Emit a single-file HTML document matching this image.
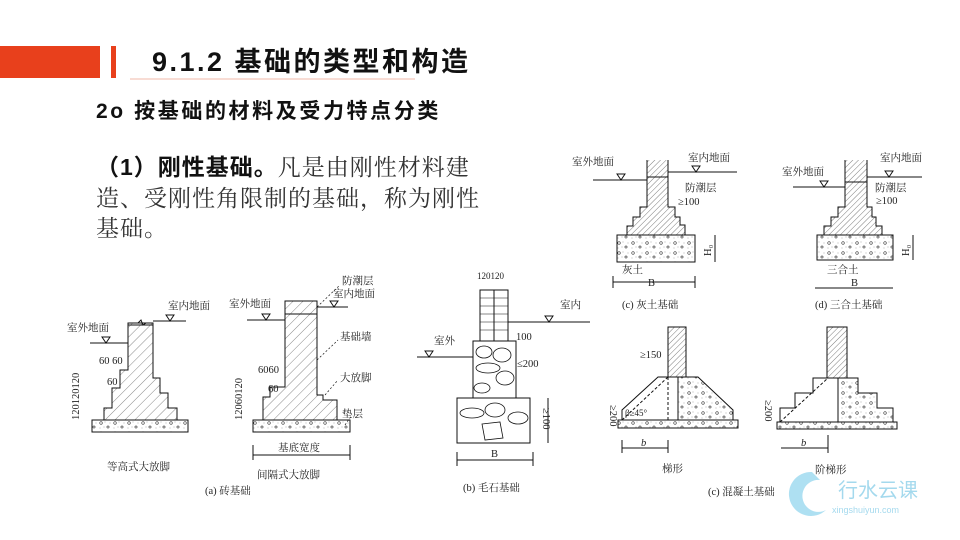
<!DOCTYPE html>
<html><head><meta charset="utf-8"><style>
body{margin:0;background:#fff;width:960px;height:540px;overflow:hidden;font-family:"Liberation Sans","Noto Sans CJK SC",sans-serif}
svg{position:absolute;left:0;top:0}
.t{font-family:"Liberation Serif","Noto Serif CJK SC",serif;font-size:10.5px;fill:#222}
</style></head><body>
<svg width="960" height="540" viewBox="0 0 960 540">
<defs>
<pattern id="h" width="7" height="7" patternUnits="userSpaceOnUse" patternTransform="rotate(45)"><line x1="0" y1="0" x2="0" y2="7" stroke="#555" stroke-width="0.7"/></pattern>
<pattern id="hd" width="4" height="4" patternUnits="userSpaceOnUse" patternTransform="rotate(45)"><line x1="0" y1="0" x2="0" y2="4" stroke="#444" stroke-width="0.7"/></pattern>
<pattern id="g" width="14" height="10" patternUnits="userSpaceOnUse"><circle cx="3" cy="3" r="1.3" fill="none" stroke="#333" stroke-width="0.6"/><circle cx="10" cy="7" r="1.1" fill="none" stroke="#333" stroke-width="0.6"/><circle cx="7" cy="2" r="0.4" fill="#555"/><circle cx="12" cy="3" r="0.4" fill="#555"/><circle cx="2" cy="8" r="0.4" fill="#555"/><circle cx="6" cy="7" r="0.4" fill="#555"/></pattern>
</defs>
<!-- header -->
<rect x="0" y="46" width="100" height="32" fill="#e8401c"/>
<rect x="111" y="46" width="5" height="32" fill="#e8401c"/>
<line x1="130" y1="79" x2="415" y2="79" stroke="#f2b8a8" stroke-width="1"/>
<text x="152" y="71" font-size="27" font-weight="bold" fill="#111" letter-spacing="2.5" font-family="Liberation Sans,Noto Sans CJK SC,sans-serif">9.1.2  基础的类型和构造</text>
<text x="96" y="118" font-size="21" font-weight="bold" fill="#111" letter-spacing="2.6" font-family="Liberation Sans,Noto Sans CJK SC,sans-serif">2o 按基础的材料及受力特点分类</text>
<text x="96" y="175" font-size="23" fill="#333" letter-spacing="1" font-family="Liberation Serif,Noto Serif CJK SC,serif"><tspan font-weight="bold" fill="#111" font-family="Liberation Sans,Noto Sans CJK SC,sans-serif">（1）刚性基础。</tspan>凡是由刚性材料建</text>
<text x="96" y="206" font-size="23" fill="#333" letter-spacing="1" font-family="Liberation Serif,Noto Serif CJK SC,serif">造、受刚性角限制的基础，称为刚性</text>
<text x="96" y="236" font-size="23" fill="#333" letter-spacing="1" font-family="Liberation Serif,Noto Serif CJK SC,serif">基础。</text>

<g stroke="#111" stroke-width="1" fill="none">
<!-- (a) left -->
<path d="M128,323 L128,370 L120,370 L120,388 L112,388 L112,408 L104,408 L104,420 L177,420 L177,408 L168,408 L168,393 L160,393 L160,378 L153,378 L153,323 Z" fill="url(#h)"/>
<path d="M128,323 l10,0 l3,-3 l2,5 l3,-2 l7,0"/>
<line x1="128" y1="325" x2="153" y2="325"/>
<rect x="92" y="420" width="96" height="12" fill="url(#g)"/>
<line x1="90" y1="343" x2="128" y2="343"/><line x1="153" y1="321" x2="186" y2="321"/>
<path d="M102,337 l4,6 l4,-6 z M166,315 l4,6 l4,-6 z"/>
<!-- (a) middle -->
<path d="M285,301 L285,387 L270,387 L270,397 L263,397 L263,420 L337,420 L337,400 L323,400 L323,395 L317,395 L317,301 Z" fill="url(#h)"/>
<line x1="285" y1="314" x2="317" y2="314"/>
<rect x="253" y="420" width="97" height="12" fill="url(#g)"/>
<line x1="247" y1="320" x2="285" y2="320"/><line x1="317" y1="307" x2="348" y2="307"/>
<path d="M262,314 l4,6 l4,-6 z M330,301 l4,6 l4,-6 z"/>
<line x1="253" y1="455" x2="350" y2="455"/><line x1="253" y1="445" x2="253" y2="460"/><line x1="350" y1="445" x2="350" y2="460"/>
<g stroke-dasharray="2,2" stroke-width="0.7"><line x1="317" y1="307" x2="340" y2="285"/><line x1="317" y1="360" x2="338" y2="340"/><line x1="325" y1="395" x2="338" y2="380"/><line x1="345" y1="425" x2="352" y2="415"/></g>
<!-- (b) rubble -->
<rect x="480" y="290" width="28" height="51"/>
<line x1="494" y1="290" x2="494" y2="341"/>
<g stroke-width="0.6"><line x1="480" y1="298" x2="508" y2="298"/><line x1="480" y1="306" x2="508" y2="306"/><line x1="480" y1="314" x2="508" y2="314"/><line x1="480" y1="322" x2="508" y2="322"/><line x1="480" y1="330" x2="508" y2="330"/></g>
<rect x="473" y="341" width="43" height="57"/>
<rect x="457" y="398" width="73" height="45"/>
<g stroke-width="0.8"><ellipse cx="484" cy="352" rx="8" ry="6"/><ellipse cx="502" cy="355" rx="9" ry="7"/><ellipse cx="488" cy="368" rx="12" ry="5"/><ellipse cx="505" cy="378" rx="9" ry="7"/><ellipse cx="482" cy="388" rx="8" ry="5"/><ellipse cx="495" cy="410" rx="10" ry="7"/><ellipse cx="472" cy="413" rx="12" ry="5"/><ellipse cx="518" cy="418" rx="10" ry="6"/><path d="M482,424 l18,-2 l3,16 l-18,2 z"/></g>
<line x1="508" y1="322" x2="590" y2="322"/><line x1="417" y1="357" x2="473" y2="357"/>
<path d="M545,316 l4,6 l4,-6 z M425,351 l4,6 l4,-6 z"/>
<line x1="457" y1="460" x2="533" y2="460"/><line x1="457" y1="452" x2="457" y2="466"/><line x1="533" y1="452" x2="533" y2="466"/>
<line x1="548" y1="398" x2="548" y2="443"/>
<!-- (c) lime -->
<path d="M647,160 L647,207 L640,207 L640,217 L633,217 L633,226 L627,226 L627,235 L685,235 L685,225 L680,225 L680,217 L675,217 L675,207 L668,207 L668,160" fill="url(#hd)"/>
<line x1="647" y1="177" x2="668" y2="177"/>
<rect x="617" y="235" width="78" height="27" fill="url(#g)"/>
<line x1="593" y1="180" x2="647" y2="180"/><line x1="668" y1="172" x2="737" y2="172"/>
<path d="M617,174 l4,6 l4,-6 z M692,166 l4,6 l4,-6 z"/>
<line x1="613" y1="282" x2="695" y2="282"/><line x1="613" y1="276" x2="613" y2="288"/><line x1="695" y1="276" x2="695" y2="288"/>
<line x1="715" y1="235" x2="715" y2="262"/>
<!-- (d) sanhetu -->
<path d="M845,160 L845,207 L838,207 L838,217 L831,217 L831,226 L824,226 L824,235 L882,235 L882,226 L876,226 L876,217 L872,217 L872,207 L867,207 L867,160" fill="url(#hd)"/>
<line x1="845" y1="182" x2="867" y2="182"/>
<rect x="817" y="235" width="76" height="25" fill="url(#g)"/>
<line x1="793" y1="187" x2="845" y2="187"/><line x1="867" y1="177" x2="922" y2="177"/>
<path d="M820,181 l4,6 l4,-6 z M885,171 l4,6 l4,-6 z"/>
<line x1="815" y1="288" x2="893" y2="288"/>
<line x1="913" y1="235" x2="913" y2="260"/>
<!-- (e) trapezoid -->
<rect x="668" y="327" width="18" height="50" fill="url(#hd)"/>
<path d="M658,377 L698,377 L733,410 L733,420 L622,420 L622,410 Z"/>
<path d="M678,377 L698,377 L733,410 L733,420 L678,420 Z" fill="url(#g)" stroke="none"/>
<line x1="678" y1="377" x2="678" y2="420"/>
<line x1="668" y1="377" x2="668" y2="420" stroke-dasharray="3,2"/>
<line x1="622" y1="420" x2="668" y2="377" stroke-dasharray="3,2"/>
<rect x="618" y="420" width="120" height="8" fill="url(#g)"/>
<line x1="622" y1="448" x2="668" y2="448"/><line x1="622" y1="440" x2="622" y2="453"/><line x1="668" y1="440" x2="668" y2="453"/>
<!-- (e) stepped -->
<rect x="827" y="327" width="20" height="51" fill="url(#hd)"/>
<path d="M838,378 L858,378 L858,393 L877,393 L877,408 L893,408 L893,422 L838,422 Z" fill="url(#g)" stroke="none"/>
<path d="M813,378 L858,378 L858,393 L877,393 L877,408 L893,408 L893,422 L780,422 L780,408 L795,408 L795,393 L813,393 Z"/>
<line x1="838" y1="378" x2="838" y2="422"/>
<line x1="780" y1="422" x2="828" y2="378" stroke-dasharray="3,2"/>
<rect x="777" y="422" width="120" height="7" fill="url(#g)"/>
<line x1="781" y1="448" x2="828" y2="448"/><line x1="828" y1="435" x2="828" y2="453"/>
</g>
<g class="t">
<text x="67" y="331">室外地面</text><text x="168" y="309">室内地面</text>
<text x="99" y="364">60 60</text><text x="107" y="385">60</text>
<text transform="translate(79,420) rotate(-90)">120120120</text>
<text x="229" y="307">室外地面</text><text x="342" y="284">防潮层</text><text x="333" y="297">室内地面</text>
<text x="340" y="340">基础墙</text><text x="340" y="381">大放脚</text><text x="342" y="417">垫层</text>
<text x="258" y="373">6060</text><text x="268" y="392">60</text>
<text transform="translate(242,420) rotate(-90)">12060120</text>
<text x="278" y="451">基底宽度</text>
<text x="107" y="470">等高式大放脚</text><text x="257" y="478">间隔式大放脚</text><text x="205" y="494">(a) 砖基础</text>
<text x="477" y="279" font-size="9">120120</text><text x="560" y="308">室内</text><text x="434" y="344">室外</text>
<text x="516" y="340">100</text><text x="517" y="367">≤200</text>
<text transform="translate(543,408) rotate(90)">≥100</text>
<text x="491" y="457">B</text><text x="463" y="491">(b) 毛石基础</text>
<text x="572" y="165">室外地面</text><text x="688" y="161">室内地面</text>
<text x="685" y="191">防潮层</text><text x="678" y="205">≥100</text>
<text transform="translate(711,256) rotate(-90)">H₀</text>
<text x="622" y="273">灰土</text><text x="648" y="286">B</text>
<text x="622" y="308">(c) 灰土基础</text>
<text x="782" y="175">室外地面</text><text x="880" y="161">室内地面</text>
<text x="875" y="191">防潮层</text><text x="876" y="204">≥100</text>
<text transform="translate(909,256) rotate(-90)">H₀</text>
<text x="827" y="273">三合土</text><text x="851" y="286">B</text>
<text x="815" y="308">(d) 三合土基础</text>
<text x="640" y="358">≥150</text><text x="625" y="416" font-size="9">β≥45°</text>
<text transform="translate(610,405) rotate(90)">≥200</text>
<text transform="translate(765,400) rotate(90)">≥200</text>
<text x="641" y="446" font-style="italic">b</text><text x="801" y="446" font-style="italic">b</text>
<text x="662" y="472">梯形</text><text x="815" y="473">阶梯形</text>
<text x="708" y="495">(c) 混凝土基础</text>
</g>
<!-- watermark -->
<g opacity="0.55">
<path d="M812,472 a22,22 0 1 0 14,38 a16,16 0 1 1 -6,-30 z" fill="#6cc7e8"/>
<text x="838" y="497" font-size="20" fill="#5bbbe0" font-family="Liberation Sans,Noto Sans CJK SC,sans-serif">行水云课</text>
<text x="832" y="513" font-size="9" fill="#5bbbe0">xingshuiyun.com</text>
</g>
</svg>
</body></html>
